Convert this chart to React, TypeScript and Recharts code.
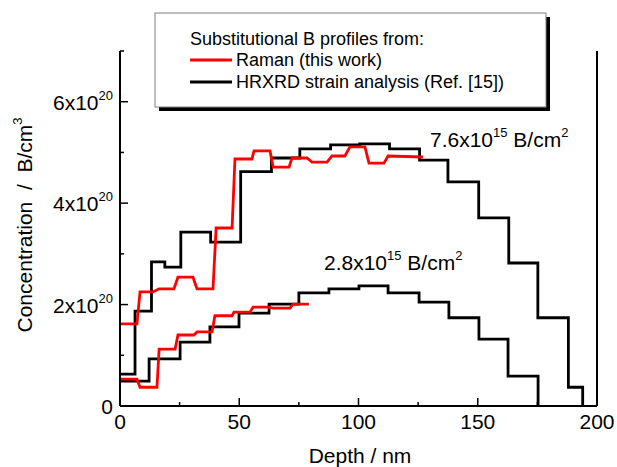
import { LineChart, Line, XAxis, YAxis } from 'recharts'

const FONT = '"Liberation Sans", Arial, sans-serif'

// axis ticks (depth in nm, concentration in 1e20 B/cm3)
const depthTicks = [0, 25, 50, 75, 100, 125, 150, 175, 200]
const concTicks = [0, 1, 2, 3, 4, 5, 6, 7]

// HRXRD, 7.6e15 B/cm2 - step starts
const hrxrdHighDepth = [0, 6.3, 13.2, 18.8, 25.5, 38, 50.6, 63.5, 75.4, 88.3, 100.5, 113, 125.6, 137.5, 150.4, 163, 175.2, 188, 194]
const hrxrdHighConc = [0.63, 1.87, 2.84, 2.74, 3.43, 3.23, 4.62, 4.89, 5.07, 5.15, 5.17, 5.07, 4.85, 4.42, 3.71, 2.82, 1.74, 0.37, 0]

// HRXRD, 2.8e15 B/cm2
const hrxrdLowDepth = [0, 12.2, 25.2, 37.7, 49.9, 62.5, 75, 87.6, 100.2, 112.4, 125.4, 137.9, 150.5, 162.7, 175.3]
const hrxrdLowConc = [0.49, 0.93, 1.26, 1.56, 1.83, 2.01, 2.23, 2.31, 2.37, 2.23, 2.05, 1.74, 1.32, 0.59, 0]

// Raman, 7.6e15 B/cm2
const ramanHighDepth = [0, 7.1, 8.4, 13.8, 16.4, 22.6, 24.3, 30.6, 32.3, 39, 40.3, 47, 48.2, 55.3, 56.2, 62.9, 64.2, 70.9, 72.1, 78.4, 80.5, 86.8, 88.9, 94.3, 96.4, 102.7, 104.4, 110.7, 112.4, 127]
const ramanHighConc = [1.62, 1.62, 2.25, 2.25, 2.31, 2.31, 2.54, 2.54, 2.31, 2.31, 3.51, 3.51, 4.87, 4.87, 5.03, 5.03, 4.71, 4.71, 4.89, 4.89, 4.81, 4.81, 4.93, 4.93, 5.11, 5.11, 4.79, 4.79, 4.93, 4.91]

// Raman, 2.8e15 B/cm2
const ramanLowDepth = [0, 7.1, 8.4, 15.5, 16.4, 23.1, 24.3, 31, 32.3, 38.6, 39.8, 47, 47.8, 54.5, 55.8, 62.1, 64.2, 71.3, 72.5, 79.2]
const ramanLowConc = [0.53, 0.53, 0.37, 0.37, 1.12, 1.12, 1.4, 1.4, 1.46, 1.46, 1.78, 1.78, 1.85, 1.85, 1.95, 1.95, 1.93, 1.93, 2.01, 2.01]

const RAMAN = 'Raman (this work)'
const HRXRD = 'HRXRD strain analysis (Ref. [15])'

const zip = (d: number[], c: number[]) => d.map((depth, i) => ({ depth, conc: c[i] }))

const M = 6 // tickMargin, used to find the axis line from the tick position

function BottomTick({ x, y, payload }: any) {
  const ay = y - M
  const major = payload.value % 50 === 0
  return (
    <g>
      <line x1={x} x2={x} y1={ay} y2={ay - (major ? 8 : 4)} stroke="#000" strokeWidth={1.5} />
      {major && (
        <text x={x} y={ay + 23} textAnchor="middle" fontSize={21} fontFamily={FONT} fill="#000">
          {payload.value}
        </text>
      )}
    </g>
  )
}

function TopTick({ x, y, payload }: any) {
  const ay = y + M
  const major = payload.value % 50 === 0
  return <line x1={x} x2={x} y1={ay} y2={ay + (major ? 8 : 4)} stroke="#000" strokeWidth={1.5} />
}

function LeftTick({ x, y, payload }: any) {
  const ax = x + M
  const v = payload.value
  const major = v % 2 === 0
  return (
    <g>
      <line x1={ax} x2={ax + (major ? 8 : 4)} y1={y} y2={y} stroke="#000" strokeWidth={1.5} />
      {major && (
        <text x={ax - 7} y={y + 8} textAnchor="end" fontSize={21} fontFamily={FONT} fill="#000">
          {v === 0 ? '0' : (
            <>
              {`${v}x10`}
              <tspan dy={-10} fontSize={13}>20</tspan>
            </>
          )}
        </text>
      )}
    </g>
  )
}

function RightTick({ x, y, payload }: any) {
  const ax = x - M
  const major = payload.value % 2 === 0
  return <line x1={ax} x2={ax - (major ? 8 : 4)} y1={y} y2={y} stroke="#000" strokeWidth={1.5} />
}

function Dose({ x, y, mant }: { x: number; y: number; mant: string }) {
  return (
    <text x={x} y={y} fontSize={21} fontFamily={FONT} fill="#000">
      {`${mant}x10`}
      <tspan dy={-10} fontSize={13}>15</tspan>
      <tspan dy={10}>{'\u00a0B/cm'}</tspan>
      <tspan dy={-10} fontSize={13}>2</tspan>
    </text>
  )
}

export default function App() {
  const axisStyle = { stroke: '#000', strokeWidth: 2 }
  return (
    <div style={{ position: 'absolute', left: 0, top: 0, width: 617, height: 467, background: '#fff' }}>
      <LineChart width={617} height={467} margin={{ top: 51, right: 0, bottom: 21, left: 60 }}>
        <XAxis
          dataKey="depth" type="number" domain={[0, 200]} ticks={depthTicks} interval={0}
          height={40} tickSize={0} tickMargin={M} tickLine={false} axisLine={axisStyle}
          tick={(p: any) => <BottomTick {...p} />}
        />
        <XAxis
          xAxisId="top" orientation="top" dataKey="depth" type="number" domain={[0, 200]} ticks={depthTicks}
          interval={0} height={0} tickSize={0} tickMargin={M} tickLine={false} axisLine={axisStyle}
          tick={(p: any) => <TopTick {...p} />}
        />
        <YAxis
          type="number" domain={[0, 7]} ticks={concTicks} interval={0} width={60}
          tickSize={0} tickMargin={M} tickLine={false} axisLine={axisStyle}
          tick={(p: any) => <LeftTick {...p} />}
        />
        <YAxis
          yAxisId="right" orientation="right" type="number" domain={[0, 7]} ticks={concTicks} interval={0}
          width={20} tickSize={0} tickMargin={M} tickLine={false} axisLine={axisStyle}
          tick={(p: any) => <RightTick {...p} />}
        />
        <Line data={zip(hrxrdHighDepth, hrxrdHighConc)} dataKey="conc" name={HRXRD} type="stepAfter"
          stroke="#000" strokeWidth={2.8} dot={false} isAnimationActive={false} />
        <Line data={zip(hrxrdLowDepth, hrxrdLowConc)} dataKey="conc" name={HRXRD} type="stepAfter"
          stroke="#000" strokeWidth={2.8} dot={false} isAnimationActive={false} />
        <Line data={zip(ramanHighDepth, ramanHighConc)} dataKey="conc" name={RAMAN} type="linear"
          stroke="#ff0000" strokeWidth={2.8} dot={false} isAnimationActive={false} />
        <Line data={zip(ramanLowDepth, ramanLowConc)} dataKey="conc" name={RAMAN} type="linear"
          stroke="#ff0000" strokeWidth={2.8} dot={false} isAnimationActive={false} />
      </LineChart>

      {/* legend, dose labels and axis titles */}
      <svg width={617} height={467} style={{ position: 'absolute', left: 0, top: 0, pointerEvents: 'none' }}>
        <rect x={159} y={17} width={391} height={94} fill="#000" />
        <rect x={155} y={13} width={391} height={94} fill="#fff" stroke="#808080" strokeWidth={1} />
        <text x={190} y={45} fontSize={18} fontFamily={FONT} fill="#000">Substitutional B profiles from:</text>
        <line x1={190} x2={232} y1={60} y2={60} stroke="#ff0000" strokeWidth={2.8} />
        <text x={236} y={66} fontSize={18} fontFamily={FONT} fill="#000">{RAMAN}</text>
        <line x1={190} x2={232} y1={82} y2={82} stroke="#000" strokeWidth={2.8} />
        <text x={236} y={88} fontSize={18} fontFamily={FONT} fill="#000">{HRXRD}</text>

        <Dose x={430} y={147} mant="7.6" />
        <Dose x={324} y={270} mant="2.8" />

        <text x={360} y={463} textAnchor="middle" fontSize={21} fontFamily={FONT} fill="#000">Depth / nm</text>
        <text x={32} y={225} transform="rotate(-90 32 225)" textAnchor="middle" fontSize={21} fontFamily={FONT} fill="#000">
          {'Concentration\u00a0\u00a0/\u00a0\u00a0B/cm'}
          <tspan dy={-10} fontSize={13}>3</tspan>
        </text>
      </svg>
    </div>
  )
}
